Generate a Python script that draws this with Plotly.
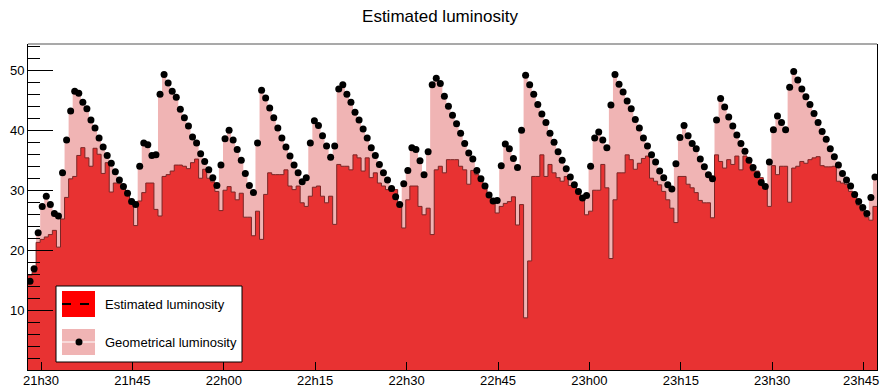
import plotly.graph_objects as go
from datetime import datetime, timedelta

# ---------------- data ----------------
bin_start = datetime(2016, 5, 20, 21, 27, 52)   # left edge of first bin
bin_seconds = 40

geometrical = [
    14.8, 16.9, 22.9, 27.3, 29.0, 27.6, 26.1, 25.7, 32.9, 38.4,
    43.2, 46.5, 46.2, 44.7, 43.6, 41.7, 40.4, 38.7, 37.2, 35.8,
    34.5, 33.1, 31.7, 30.6, 29.5, 28.1, 27.6, 34.0, 37.9, 37.6,
    35.8, 35.9, 46.0, 49.3, 47.9, 46.5, 45.5, 43.5, 42.1, 40.7,
    38.9, 37.9, 36.1, 34.8, 33.4, 32.1, 30.8, 34.2, 38.6, 40.0,
    38.4, 36.8, 35.0, 32.8, 30.8, 29.6, 37.9, 46.7, 45.4, 43.7,
    42.1, 40.4, 38.7, 37.2, 35.7, 34.2, 32.9, 31.4, 32.1, 37.9,
    41.6, 40.8, 39.1, 37.4, 35.5, 37.4, 46.9, 47.6, 46.0, 44.7,
    43.0, 41.7, 40.2, 38.7, 37.1, 35.8, 34.3, 32.9, 31.7, 30.3,
    28.9, 27.6, 31.1, 33.3, 37.1, 36.8, 34.9, 32.6, 36.4, 47.6,
    48.7, 47.8, 45.7, 44.0, 42.5, 41.1, 39.5, 37.8, 36.2, 35.2,
    33.3, 31.9, 30.7, 29.2, 28.2, 28.3, 34.1, 37.7, 36.9, 35.3,
    33.8, 40.0, 49.2, 47.6, 46.0, 44.3, 42.7, 41.3, 39.5, 38.0,
    36.4, 35.0, 33.6, 32.2, 30.9, 29.8, 28.7, 29.1, 34.0, 38.7,
    39.7, 38.4, 37.1, 44.2, 49.3, 47.7, 46.4, 44.9, 43.6, 41.8,
    40.4, 38.7, 37.4, 35.9, 34.7, 33.2, 32.1, 30.9, 30.2, 34.4,
    38.8, 40.8, 39.1, 37.8, 36.9, 35.2, 33.9, 32.6, 31.9, 41.7,
    45.3, 43.9, 42.2, 40.7, 39.2, 37.8, 36.5, 35.0, 33.8, 32.6,
    31.3, 30.6, 34.7, 40.1, 42.4, 41.3, 40.1, 47.2, 49.8, 48.4,
    46.9, 45.6, 44.3, 42.8, 41.3, 39.8, 38.5, 36.9, 35.6, 34.2,
    32.8, 31.7, 30.7, 29.3, 28.1, 27.1, 26.1, 28.8, 32.2,
]

estimated = [
    15.8, 16.3, 21.3, 21.8, 22.2, 22.6, 23.3, 20.5, 25.2, 28.8,
    31.9, 32.3, 35.8, 37.1, 35.4, 34.0, 37.0, 36.0, 32.8, 34.6,
    29.7, 31.2, 31.1, 30.6, 29.8, 28.5, 24.1, 28.2, 29.6, 31.2,
    31.2, 26.8, 25.7, 32.3, 32.6, 33.2, 34.2, 34.2, 34.0, 33.6,
    34.6, 35.2, 32.0, 33.5, 32.0, 31.4, 29.8, 26.6, 30.0, 30.6,
    29.7, 28.4, 29.5, 25.5, 25.5, 22.4, 26.5, 21.8, 29.3, 32.9,
    32.6, 32.6, 32.6, 33.4, 30.7, 30.1, 30.7, 27.9, 27.3, 29.0,
    30.5, 30.7, 29.0, 27.9, 29.0, 24.3, 34.3, 34.0, 34.0, 33.4,
    35.9, 35.4, 33.2, 35.4, 32.1, 32.9, 31.2, 30.7, 30.1, 29.8,
    30.1, 27.3, 23.7, 28.4, 30.7, 30.7, 27.3, 25.9, 27.0, 22.6,
    33.4, 34.0, 32.9, 35.1, 35.1, 35.1, 34.0, 33.4, 31.0, 33.3,
    32.6, 31.8, 30.8, 29.6, 28.4, 26.2, 27.3, 27.8, 28.1, 28.9,
    24.2, 27.6, 8.7, 18.2, 32.3, 32.3, 35.9, 32.3, 34.3, 32.9,
    32.1, 31.5, 32.3, 30.8, 30.7, 29.8, 28.5, 25.9, 26.5, 30.0,
    30.0, 34.3, 30.4, 18.6, 28.4, 32.9, 32.9, 35.9, 35.1, 33.5,
    34.5, 35.3, 35.7, 32.0, 31.5, 30.9, 29.8, 28.4, 27.0, 24.6,
    32.3, 32.3, 31.0, 30.4, 29.6, 28.3, 27.9, 27.9, 25.4, 35.9,
    34.8, 33.7, 35.1, 34.3, 35.7, 33.4, 35.7, 35.2, 33.2, 33.2,
    32.1, 30.4, 27.3, 34.1, 32.6, 34.0, 34.0, 28.0, 33.7, 34.0,
    34.8, 34.5, 35.1, 35.4, 35.6, 34.1, 33.9, 33.9, 34.0, 31.5,
    31.2, 31.0, 29.8, 29.0, 27.5, 26.5, 25.5, 25.0, 27.3,
]

x_tick_labels = ["21h30", "21h45", "22h00", "22h15", "22h30",
                 "22h45", "23h00", "23h15", "23h30", "23h45"]
y_ticks = [10, 20, 30, 40, 50]
title_text = "Estimated luminosity"
legend_labels = ["Estimated luminosity", "Geometrical luminosity"]

# ---------------- derived positions ----------------
n = len(geometrical)
edges = [bin_start + timedelta(seconds=bin_seconds * i) for i in range(n + 1)]
centers = [bin_start + timedelta(seconds=bin_seconds * (i + 0.5)) for i in range(n)]
day = bin_start.date()
x_tick_vals = [datetime(day.year, day.month, day.day, int(t[:2]), int(t[3:]))
               for t in x_tick_labels]

RED = "#e83232"
PINK = "#f0b4b4"
OUTLINE = "#7a2626"
FONT = "Liberation Sans, Arial, Helvetica, sans-serif"

W, H = 880, 387
L, R, T, B = 28, 3, 44, 17
PW, PH = W - L - R, H - T - B


def px(x):
    return (x - L) / PW


def py(y):
    return (H - B - y) / PH


fig = go.Figure()

# Geometrical luminosity (step, filled)
fig.add_trace(go.Scatter(
    x=edges, y=geometrical + [geometrical[-1]],
    mode="lines", line=dict(shape="hv", width=0, color=PINK),
    fill="tozeroy", fillcolor=PINK, showlegend=False, hoverinfo="skip"))

# Estimated luminosity (step, filled, outlined)
fig.add_trace(go.Scatter(
    x=edges, y=estimated + [estimated[-1]],
    mode="lines", line=dict(shape="hv", width=1, color=OUTLINE),
    fill="tozeroy", fillcolor=RED, showlegend=False, hoverinfo="skip"))

# Geometrical markers
fig.add_trace(go.Scatter(
    x=centers, y=geometrical, mode="markers",
    marker=dict(color="black", size=7, line=dict(width=0)),
    showlegend=False, hoverinfo="skip"))

shapes = [
    # top frame line (grey)
    dict(type="line", xref="paper", yref="paper", x0=0, x1=1, y0=1, y1=1,
         line=dict(color="#8c8c8c", width=1.5)),
    # legend box
    dict(type="rect", xref="paper", yref="paper", x0=px(56), x1=px(242),
         y0=py(362), y1=py(286), fillcolor="white", line=dict(color="black", width=1)),
    # swatch 1
    dict(type="rect", xref="paper", yref="paper", x0=px(62), x1=px(95),
         y0=py(317), y1=py(291), fillcolor="#ff0000", line=dict(width=0)),
    dict(type="line", xref="paper", yref="paper", x0=px(62), x1=px(95),
         y0=py(304), y1=py(304), line=dict(color="black", width=2, dash="dash")),
    # swatch 2
    dict(type="rect", xref="paper", yref="paper", x0=px(62), x1=px(95),
         y0=py(355), y1=py(329), fillcolor=PINK, line=dict(width=0)),
    dict(type="line", xref="paper", yref="paper", x0=px(62), x1=px(95),
         y0=py(342), y1=py(342), line=dict(color="white", width=1)),
    dict(type="circle", xref="paper", yref="paper", x0=px(75.5), x1=px(82.5),
         y0=py(345.5), y1=py(338.5), fillcolor="black", line=dict(width=0)),
]

annotations = [
    dict(xref="paper", yref="paper", x=px(103), y=py(304), xanchor="left",
         yanchor="middle", text=legend_labels[0], showarrow=False,
         font=dict(family=FONT, size=13, color="black")),
    dict(xref="paper", yref="paper", x=px(103), y=py(342), xanchor="left",
         yanchor="middle", text=legend_labels[1], showarrow=False,
         font=dict(family=FONT, size=13, color="black")),
    # last x tick label, nudged so it stays inside the picture
    dict(xref="x", yref="paper", x=x_tick_vals[-1], y=py(380), xanchor="center",
         yanchor="middle", xshift=-3, text=x_tick_labels[-1], showarrow=False,
         font=dict(family=FONT, size=13, color="black")),
]

fig.update_layout(
    width=W, height=H,
    margin=dict(l=L, r=R, t=T, b=B, pad=0),
    paper_bgcolor="white", plot_bgcolor="white",
    title=dict(text=title_text, x=0.5, xanchor="center", y=1 - 16 / H,
               yanchor="middle", font=dict(family=FONT, size=17, color="black")),
    font=dict(family=FONT, size=13, color="black"),
    shapes=shapes, annotations=annotations,
    showlegend=False,
    xaxis=dict(
        type="date", range=[edges[0], edges[-1]],
        tickmode="array", tickvals=x_tick_vals,
        ticktext=x_tick_labels[:-1] + [""],
        ticks="inside", ticklen=8, tickcolor="black",
        ticklabeloverflow="allow", ticklabelstandoff=-2,
        showline=True, linecolor="black", linewidth=1, mirror=False,
        showgrid=False, zeroline=False, automargin=False,
        tickfont=dict(family=FONT, size=13, color="black"),
    ),
    yaxis=dict(
        range=[0, 54.4], tickmode="array", tickvals=y_ticks,
        ticks="inside", ticklen=25, tickcolor="black",
        minor=dict(tickmode="linear", tick0=0, dtick=2, ticks="inside",
                   ticklen=12, tickcolor="black", showgrid=False),
        showline=True, linecolor="black", linewidth=1, mirror=True,
        showgrid=False, zeroline=False, automargin=False,
        tickfont=dict(family=FONT, size=13, color="black"),
    ),
)

fig.write_html(
    "out.html",
    config={"displayModeBar": False},
    post_script="document.body.style.margin='0';document.body.style.overflow='hidden';",
)
